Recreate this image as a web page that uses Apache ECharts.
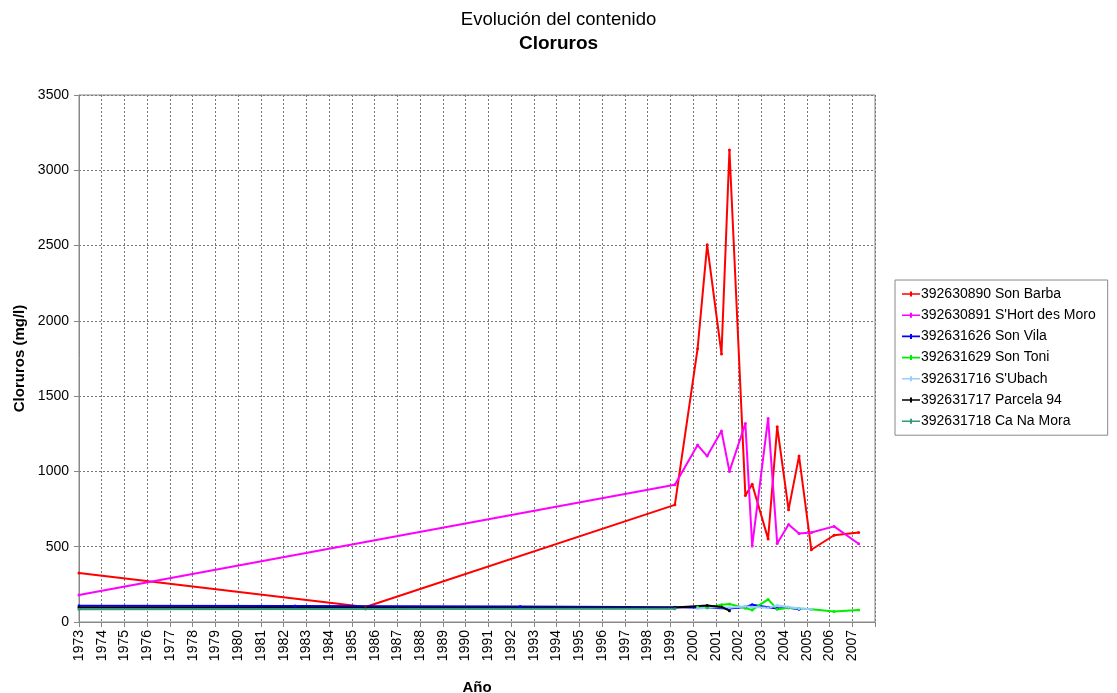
<!DOCTYPE html>
<html>
<head>
<meta charset="utf-8">
<script src="https://cdn.jsdelivr.net/npm/echarts@6/dist/echarts.min.js"></script>
<style>
  html, body { margin: 0; padding: 0; background: #fff; }
  #chart { width: 1117px; height: 693px; }
</style>
</head>
<body>
<div id="chart"></div>
<script>
// Chloride content per well, [decimal year, mg/l]
const sonBarba = [[1973.0,325],[1985.6,100],[1999.2,778],[2000.2,1815],[2000.62,2505],[2001.25,1780],[2001.6,3135],[2002.3,840],[2002.6,915],[2003.3,552],[2003.7,1296],[2004.2,746],[2004.66,1102],[2005.2,480],[2006.2,576],[2007.28,595]];
const sHortDesMoro = [[1973.0,180],[1999.2,912],[2000.2,1175],[2000.62,1102],[2001.25,1268],[2001.6,1000],[2002.3,1318],[2002.6,505],[2003.3,1352],[2003.7,521],[2004.2,647],[2004.66,588],[2005.2,595],[2006.2,635],[2007.28,520]];
const sonVila = [[1973.0,108],[1982.5,106],[1992.4,103],[1999.2,98],[2000.62,95],[2001.6,90],[2002.3,100],[2002.6,115],[2003.3,98],[2003.7,90],[2004.2,95],[2004.66,85]];
const sonToni = [[2000.2,100],[2000.62,95],[2001.25,115],[2001.6,120],[2002.3,92],[2002.6,80],[2003.3,150],[2003.7,85],[2004.2,95],[2004.66,90],[2005.2,85],[2006.2,70],[2007.28,80]];
const sUbach = [[2000.2,90],[2001.25,100],[2001.6,95],[2002.3,105],[2002.6,100],[2003.3,95],[2003.7,110],[2004.2,100],[2004.66,90],[2005.2,85]];
const parcela94 = [[1973.0,97],[1985.6,95],[1999.2,97],[2000.62,110],[2001.25,100],[2001.6,75]];
const caNaMora = [[1973.0,85],[1985.6,86],[1999.2,88]];

const seriesNames = ['392630890 Son Barba','392630891 S\'Hort des Moro','392631626 Son Vila','392631629 Son Toni','392631716 S\'Ubach','392631717 Parcela 94','392631718 Ca Na Mora'];
const seriesData = [sonBarba, sHortDesMoro, sonVila, sonToni, sUbach, parcela94, caNaMora];
const seriesColors = ['#ff0000','#ff00ff','#0000ff','#00ee00','#99ccff','#000000','#339977'];

const yearMin = 1973, yearMax = 2008;
const yMax = 3500, yStep = 500;

const font = 'Liberation Sans, Arial, sans-serif';
const chart = echarts.init(document.getElementById('chart'));

// legend key: short line with a small marker in the middle
const legendIcon = 'path://M0,4 L18,4 L18,5.6 L0,5.6 Z M8,2.3 L10,2.3 L10,7.3 L8,7.3 Z';

chart.setOption({
  animation: false,
  backgroundColor: '#fff',
  title: [
    { text: 'Evolución del contenido', left: 'center', top: 5,
      textStyle: { fontFamily: font, fontSize: 18.5, fontWeight: 'normal', color: '#000' } },
    { text: 'Cloruros', left: 'center', top: 29,
      textStyle: { fontFamily: font, fontSize: 19, fontWeight: 'bold', color: '#000' } }
  ],
  legend: {
    orient: 'vertical',
    left: 895, top: 280,
    icon: legendIcon,
    itemWidth: 18, itemHeight: 9, itemGap: 7.2,
    padding: [7, 12, 7, 7],
    borderColor: '#888', borderWidth: 1,
    textStyle: { fontFamily: font, fontSize: 14, color: '#000', padding: [0, 0, 0, -4] },
    data: seriesNames
  },
  grid: {
    left: 79, top: 95, right: 242, bottom: 71,
    outerBoundsMode: 'none',
    show: true, borderColor: '#888', borderWidth: 1, backgroundColor: '#fff'
  },
  xAxis: {
    type: 'value', min: yearMin, max: yearMax, interval: 1,
    name: 'Año', nameLocation: 'middle', nameGap: 58,
    nameTextStyle: { fontFamily: font, fontSize: 15, fontWeight: 'bold', color: '#000' },
    axisLine: { lineStyle: { color: '#888' } },
    axisTick: { show: true, length: 5, lineStyle: { color: '#888' } },
    axisLabel: { rotate: 90, fontFamily: font, fontSize: 14, color: '#000', margin: 8,
      formatter: v => (v >= yearMax ? '' : String(v)) },
    splitLine: { show: true, lineStyle: { color: '#777', type: [2, 2], width: 1 } }
  },
  yAxis: {
    type: 'value', min: 0, max: yMax, interval: yStep,
    name: 'Cloruros (mg/l)', nameLocation: 'middle', nameGap: 52,
    nameTextStyle: { fontFamily: font, fontSize: 15, fontWeight: 'bold', color: '#000' },
    axisLine: { show: true, lineStyle: { color: '#888' } },
    axisTick: { show: true, length: 5, lineStyle: { color: '#888' } },
    axisLabel: { fontFamily: font, fontSize: 14, color: '#000', margin: 10,
      formatter: v => String(v) },
    splitLine: { show: true, lineStyle: { color: '#777', type: [2, 2], width: 1 } }
  },
  series: seriesData.map((d, i) => ({
    name: seriesNames[i],
    type: 'line',
    data: d,
    color: seriesColors[i],
    lineStyle: { width: 2, color: seriesColors[i] },
    symbol: 'circle', symbolSize: 3,
    itemStyle: { color: seriesColors[i] },
    emphasis: { disabled: true }
  }))
});
</script>
</body>
</html>
